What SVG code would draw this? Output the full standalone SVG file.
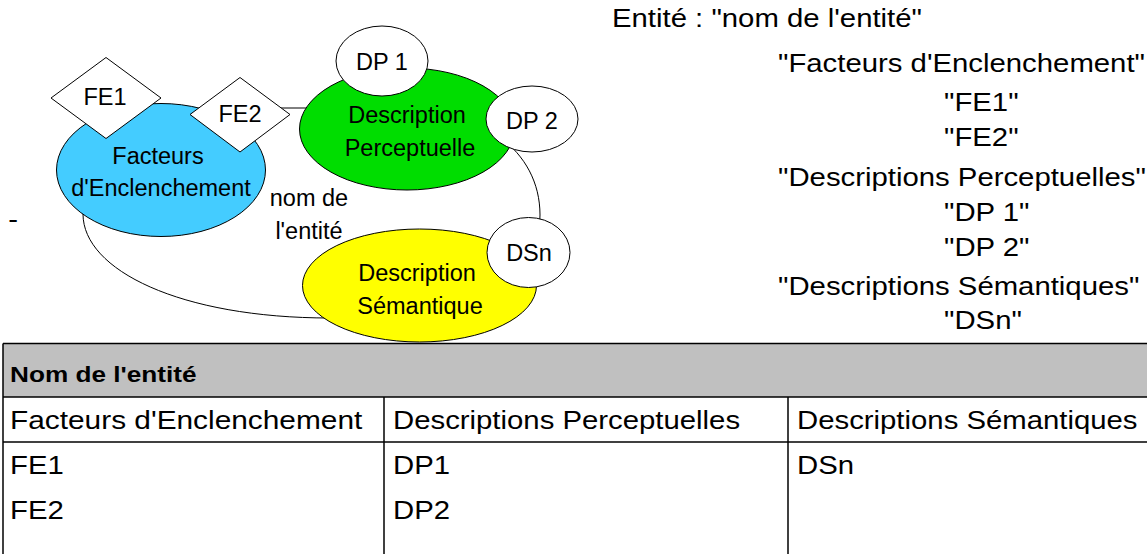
<svg xmlns="http://www.w3.org/2000/svg" width="1147" height="554" viewBox="0 0 1147 554">
  <style>
    .bg { fill: #ffffff; }
    .shape { stroke: #000000; stroke-width: 1; }
    .node-text { font-family: "Liberation Sans", Arial, sans-serif; font-size: 23.5px; fill: #000000; text-anchor: middle; }
    .wide { font-family: "Liberation Sans", Arial, sans-serif; font-size: 25.5px; fill: #000000; }
    .head { font-family: "Liberation Sans", Arial, sans-serif; font-size: 22px; font-weight: bold; fill: #000000; }
    .loop { fill: none; stroke: #000000; stroke-width: 1; }
    .grid { stroke: #000000; stroke-width: 1.5; fill: none; }
  </style>

  <rect class="bg" x="0" y="0" width="1147" height="554"/>

  <!-- loop joining the three groups, drawn behind the nodes -->
  <g id="connectors">
    <path class="loop" d="M 100,140 C 150,108 200,108 260,108 L 400,108 C 480,108 540,150 540,215 C 540,262 480,318 330,318 C 180,318 83,270 83,214 C 83,180 90,150 100,140 Z"/>
    <text class="node-text" x="309" y="206">nom de</text>
    <text class="node-text" x="309" y="239">l'entité</text>
  </g>

  <g id="facteurs">
    <ellipse class="shape" cx="161" cy="170" rx="104.5" ry="66.5" fill="#44ccff"/>
    <text class="node-text" x="158" y="163.5">Facteurs</text>
    <text class="node-text" x="161" y="196">d'Enclenchement</text>
  </g>
  <g id="fe1">
    <polygon class="shape" points="51,98 106,57.5 161,98 106,138.5" fill="#ffffff"/>
    <text class="node-text" x="105" y="105">FE1</text>
  </g>
  <g id="fe2">
    <polygon class="shape" points="190,114.5 240,77.5 290,114.5 240,152" fill="#ffffff"/>
    <text class="node-text" x="240" y="121.5">FE2</text>
  </g>

  <g id="perceptuelle">
    <ellipse class="shape" cx="407" cy="129" rx="107.5" ry="61" fill="#00dd00"/>
    <text class="node-text" x="407" y="123">Description</text>
    <text class="node-text" x="410" y="156">Perceptuelle</text>
  </g>
  <g id="dp1">
    <ellipse class="shape" cx="382" cy="61" rx="46" ry="35" fill="#ffffff"/>
    <text class="node-text" x="382" y="69.5">DP 1</text>
  </g>
  <g id="dp2">
    <ellipse class="shape" cx="532" cy="119" rx="46" ry="33" fill="#ffffff"/>
    <text class="node-text" x="532" y="128.5">DP 2</text>
  </g>

  <g id="semantique">
    <ellipse class="shape" cx="419.5" cy="285.5" rx="117" ry="56.5" fill="#ffff00"/>
    <text class="node-text" x="417" y="281">Description</text>
    <text class="node-text" x="420" y="314">Sémantique</text>
  </g>
  <g id="dsn">
    <ellipse class="shape" cx="528.5" cy="252.5" rx="41.5" ry="35" fill="#ffffff"/>
    <text class="node-text" x="529" y="261">DSn</text>
  </g>

  <text class="wide" transform="translate(8.3,228) scale(1.15,1)">-</text>

  <!-- textual outline of the entity -->
  <g id="outline">
    <text class="wide" transform="translate(612,27) scale(1.15,1)">Entité : "nom de l'entité"</text>
    <text class="wide" transform="translate(778,72) scale(1.15,1)">"Facteurs d'Enclenchement"</text>
    <text class="wide" transform="translate(944,111) scale(1.15,1)">"FE1"</text>
    <text class="wide" transform="translate(944,146) scale(1.15,1)">"FE2"</text>
    <text class="wide" transform="translate(778,186) scale(1.15,1)">"Descriptions Perceptuelles"</text>
    <text class="wide" transform="translate(944,221) scale(1.15,1)">"DP 1"</text>
    <text class="wide" transform="translate(944,256) scale(1.15,1)">"DP 2"</text>
    <text class="wide" transform="translate(778,295) scale(1.15,1)">"Descriptions Sémantiques"</text>
    <text class="wide" transform="translate(944,329) scale(1.15,1)">"DSn"</text>
  </g>

  <!-- tabular view of the entity -->
  <g id="table">
    <rect x="3" y="343.5" width="1150" height="53.5" fill="#c0c0c0"/>
    <line class="grid" x1="3" y1="343.5" x2="1147" y2="343.5"/>
    <line class="grid" x1="3" y1="397" x2="1147" y2="397"/>
    <line class="grid" x1="3" y1="442" x2="1147" y2="442"/>
    <line class="grid" x1="3" y1="343.5" x2="3" y2="554"/>
    <line class="grid" x1="384" y1="397" x2="384" y2="554"/>
    <line class="grid" x1="788" y1="397" x2="788" y2="554"/>
    <text class="head" transform="translate(10,382) scale(1.19,1)">Nom de l'entité</text>
    <text class="wide" transform="translate(10,429) scale(1.17,1)">Facteurs d'Enclenchement</text>
    <text class="wide" transform="translate(393,429) scale(1.15,1)">Descriptions Perceptuelles</text>
    <text class="wide" transform="translate(797,429) scale(1.15,1)">Descriptions Sémantiques</text>
    <text class="wide" transform="translate(10,474) scale(1.15,1)">FE1</text>
    <text class="wide" transform="translate(393,474) scale(1.15,1)">DP1</text>
    <text class="wide" transform="translate(797,474) scale(1.15,1)">DSn</text>
    <text class="wide" transform="translate(10,519) scale(1.15,1)">FE2</text>
    <text class="wide" transform="translate(393,519) scale(1.15,1)">DP2</text>
  </g>
</svg>
